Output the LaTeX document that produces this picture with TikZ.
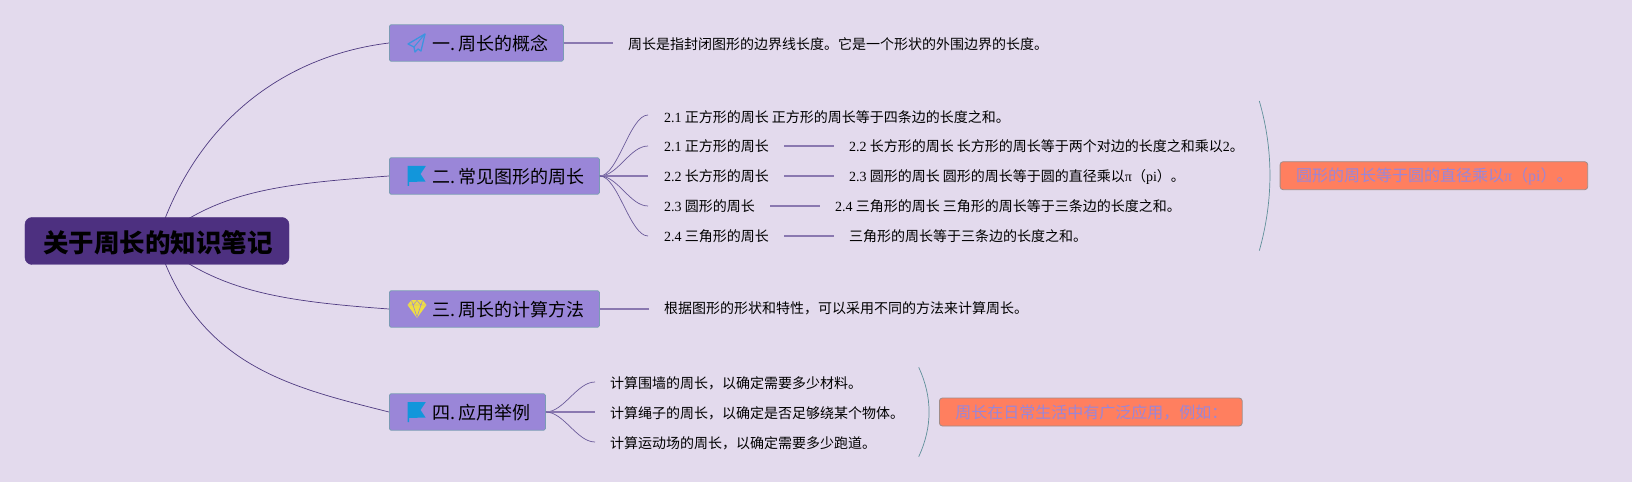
\documentclass[tikz,border=0pt]{standalone}
\usepackage{fontspec}
\setmainfont{Noto Sans CJK SC}
\newfontfamily\serifnum{Liberation Serif}
\usetikzlibrary{backgrounds}
\definecolor{paper}{HTML}{E3DAED}
\definecolor{rootfill}{HTML}{4D3080}
\definecolor{boxfill}{HTML}{9A86D8}
\definecolor{boxline}{HTML}{7B9BB5}
\definecolor{coral}{HTML}{FF7F5F}
\definecolor{coralline}{HTML}{A08C88}
\definecolor{edgedark}{HTML}{4E3A80}
\definecolor{edgesoft}{HTML}{8A78B0}
\definecolor{edgefork}{HTML}{6A5A9A}
\definecolor{bracket}{HTML}{5F8F9A}
\definecolor{iconblue}{HTML}{1296DB}
\definecolor{planeblue}{HTML}{3D94E0}
\definecolor{gemyellow}{HTML}{EEDD44}
\newcommand{\nr}[1]{{\serifnum #1}}
\newcommand{\gap}{\hspace{3.5bp}}
\tikzset{
  rootbox/.style={draw=rootfill, fill=rootfill, rounded corners=7bp, minimum width=264bp, minimum height=47bp, inner sep=0pt, text height=27bp, text depth=3bp, font=\fontsize{25.5bp}{30bp}\selectfont\bfseries},
  branchbox/.style={draw=boxline, fill=boxfill, rounded corners=1.5bp, anchor=west, text width=#1, align=left, minimum height=36.4bp, inner xsep=0pt, inner ysep=0pt, line width=0.8pt, text height=18bp, text depth=3bp, font=\fontsize{18bp}{22bp}\selectfont},
  leaf/.style={anchor=west, inner sep=0pt, text height=13bp, text depth=3bp, font=\fontsize{14bp}{16bp}\selectfont},
  summarybox/.style={draw=coralline, fill=coral, rounded corners=3bp, anchor=west, text width=#1, align=left, minimum height=28bp, inner xsep=0pt, inner ysep=0pt, line width=0.8pt, text=boxfill, text height=15bp, text depth=3bp, font=\fontsize{16bp}{20bp}\selectfont},
  rootedge/.style={draw=edgedark, line width=0.7pt},
  forkedge/.style={draw=edgefork, line width=0.7pt},
  softedge/.style={draw=edgesoft, line width=1.3pt},
  bracketedge/.style={draw=bracket, line width=0.7pt},
  flagicon/.pic={
    \fill[iconblue] (0,0) -- (18,0) -- (18,0.5) -- (13,8) -- (18,15.5) -- (1.5,16) -- (1.5,20) -- (0,20) -- cycle;
  },
  planeicon/.pic={
    \draw[planeblue, line width=1.3pt, line join=round] (17,0) -- (0,10) -- (6,13) -- (7,18) -- (10,15) -- (13,17) -- cycle;
    \draw[planeblue, line width=1pt] (6,13) -- (17,0);
  },
  gemicon/.pic={
    \fill[gemyellow] (4,0) -- (15,0) -- (19,5) -- (9.5,18) -- (0,5) -- cycle;
    \draw[boxfill, line width=0.5pt] (0.5,5) -- (18.5,5) (4,0.5) -- (5.5,5) -- (9.5,17) -- (13.5,5) -- (15,0.5) (5.5,5) -- (9.5,0.5) -- (13.5,5);
  }
}
\begin{document}
\begin{tikzpicture}[x=1bp,y=-1bp]
    \useasboundingbox (0,0) rectangle (1632,482);

    % Root
    \node[rootbox] (root) at (157,241) {\hspace*{2bp}关于周长的知识笔记};

    % Branches
    \node[branchbox=174bp] (one) at (389,43) {\hspace*{43bp}一.\gap 周长的概念};
    \node[branchbox=210bp] (two) at (389,176) {\hspace*{43bp}二.\gap 常见图形的周长};
    \node[branchbox=210bp] (three) at (389,309) {\hspace*{43bp}三.\gap 周长的计算方法};
    \node[branchbox=156bp] (four) at (389,412) {\hspace*{43bp}四.\gap 应用举例};

    % Icons
    \pic at (408,34) {planeicon};
    \pic at (407.5,166) {flagicon};
    \pic at (407.5,300) {gemicon};
    \pic at (407.5,402) {flagicon};

    % Branch 1
    \node[leaf] (onetext) at (628,45) {周长是指封闭图形的边界线长度。它是一个形状的外围边界的长度。};
    \coordinate (oneend) at (613,43);

    % Branch 2
    \coordinate (twoa) at (648,115);
    \coordinate (twob) at (648,146);
    \coordinate (twoc) at (648,176);
    \coordinate (twod) at (648,206);
    \coordinate (twoe) at (648,236);
    \node[leaf] (lista) at (664,118) {\nr{2.1} 正方形的周长 正方形的周长等于四条边的长度之和。};
    \node[leaf] (listb) at (664,147) {\nr{2.1} 正方形的周长};
    \node[leaf] (listc) at (664,177) {\nr{2.2} 长方形的周长};
    \node[leaf] (listd) at (664,207) {\nr{2.3} 圆形的周长};
    \node[leaf] (liste) at (664,237) {\nr{2.4} 三角形的周长};
    \node[leaf] (moreb) at (849,147) {\nr{2.2} 长方形的周长 长方形的周长等于两个对边的长度之和乘以\nr{2}。};
    \node[leaf] (morec) at (849,177) {\nr{2.3} 圆形的周长 圆形的周长等于圆的直径乘以\nr{π}（\nr{pi}）。};
    \node[leaf] (mored) at (835,207) {\nr{2.4} 三角形的周长 三角形的周长等于三条边的长度之和。};
    \node[leaf] (moree) at (849,237) {三角形的周长等于三条边的长度之和。};
    \coordinate (linebl) at (784,146);
    \coordinate (linebr) at (833.6,146);
    \coordinate (linecl) at (784,176);
    \coordinate (linecr) at (833.6,176);
    \coordinate (linedl) at (770,206);
    \coordinate (linedr) at (819.7,206);
    \coordinate (lineel) at (784,236);
    \coordinate (lineer) at (833.6,236);
    \coordinate (bracea) at (1259.3,101);
    \coordinate (braceb) at (1259.3,250.7);
    \node[summarybox=307.6bp] (sumtwo) at (1279.7,175.7) {\hspace*{16bp}圆形的周长等于圆的直径乘以\nr{π}（\nr{pi}）。};

    % Branch 3
    \coordinate (threeend) at (649,309);
    \node[leaf] (threetext) at (664,309) {根据图形的形状和特性，可以采用不同的方法来计算周长。};

    % Branch 4
    \coordinate (foura) at (595,382);
    \coordinate (fourb) at (595,412);
    \coordinate (fourc) at (595,442);
    \node[leaf] (usea) at (610,383) {计算围墙的周长，以确定需要多少材料。};
    \node[leaf] (useb) at (610,413) {计算绳子的周长，以确定是否足够绕某个物体。};
    \node[leaf] (usec) at (610,443) {计算运动场的周长，以确定需要多少跑道。};
    \coordinate (bracec) at (918.7,367.3);
    \coordinate (braced) at (918.7,456.7);
    \node[summarybox=302.8bp] (sumfour) at (939,412) {\hspace*{16bp}周长在日常生活中有广泛应用，例如：};

    % Edges
    \begin{pgfonlayer}{background}
      \fill[paper] (0,0) rectangle (1632,482);
      \draw[rootedge] (root.center) .. controls +(40,-125) and +(-99,12) .. (one.west);
      \draw[rootedge] (root.center) .. controls +(60,-50) and +(-110,8) .. (two.west);
      \draw[rootedge] (root.center) .. controls +(60,50) and +(-110,-8) .. (three.west);
      \draw[rootedge] (root.center) .. controls +(40,125) and +(-99,-25) .. (four.west);
    \end{pgfonlayer}
    \draw[softedge] (one.east) -- (oneend);
    \draw[forkedge] (two.east) .. controls +(18,0) and +(-18,0) .. (twoa);
    \draw[forkedge] (two.east) .. controls +(18,0) and +(-18,0) .. (twob);
    \draw[softedge] (two.east) -- (twoc);
    \draw[forkedge] (two.east) .. controls +(18,0) and +(-18,0) .. (twod);
    \draw[forkedge] (two.east) .. controls +(18,0) and +(-18,0) .. (twoe);
    \draw[softedge] (linebl) -- (linebr);
    \draw[softedge] (linecl) -- (linecr);
    \draw[softedge] (linedl) -- (linedr);
    \draw[softedge] (lineel) -- (lineer);
    \draw[bracketedge] (bracea) .. controls (1273.5,150) and (1273.5,200) .. (braceb);
    \draw[softedge] (three.east) -- (threeend);
    \draw[forkedge] (four.east) .. controls +(18,0) and +(-18,0) .. (foura);
    \draw[softedge] (four.east) -- (fourb);
    \draw[forkedge] (four.east) .. controls +(18,0) and +(-18,0) .. (fourc);
    \draw[bracketedge] (bracec) .. controls (932.5,397) and (932.5,427) .. (braced);
\end{tikzpicture}
\end{document}
